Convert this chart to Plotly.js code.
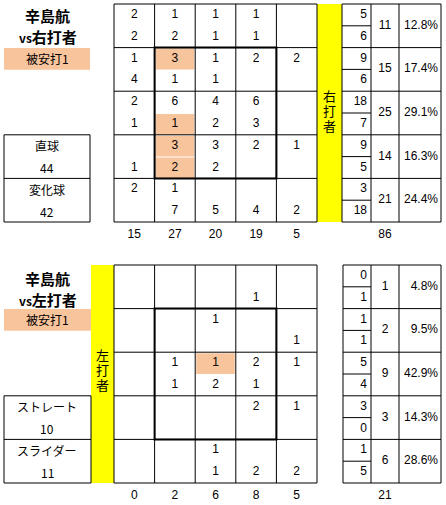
<!DOCTYPE html>
<html>
<head>
<meta charset="utf-8">
<script src="https://cdn.plot.ly/plotly-3.0.1.min.js"></script>
<style>body{margin:0;background:#fff}</style>
</head>
<body>
<div id="chart" style="width:446px;height:505px"></div>
<script>
// ---- data: 辛島航 vs 右打者 ----
const pitcher = '辛島航';
const rSide = '右打者';
const rHits = '被安打1';
const rUpperName = '直球', rUpperCount = 44;
const rLowerName = '変化球', rLowerCount = 42;
// 5x5 zone, upper number = 直球, lower number = 変化球 (null = blank)
const rUpper = [
  [2, 1, 1, 1, null],
  [1, 3, 1, 2, 2],
  [2, 6, 4, 6, null],
  [null, 3, 3, 2, 1],
  [2, 1, null, null, null]
];
const rLower = [
  [2, 2, 1, 1, null],
  [4, 1, 1, null, null],
  [1, 1, 2, 3, null],
  [1, 2, 2, null, null],
  [null, 7, 5, 4, 2]
];
// hit cells: [row, col, 0=upper / 1=lower]
const rHitCells = [[1, 1, 0], [2, 1, 1], [3, 1, 0], [3, 1, 1]];
const rRowUpper = [5, 9, 18, 9, 3];
const rRowLower = [6, 6, 7, 5, 18];
const rRowTotal = [11, 15, 25, 14, 21];
const rRowPct = ['12.8%', '17.4%', '29.1%', '16.3%', '24.4%'];
const rColTotal = [15, 27, 20, 19, 5];
const rTotal = 86;

// ---- data: 辛島航 vs 左打者 ----
const lSide = '左打者';
const lHits = '被安打1';
const lUpperName = 'ストレート', lUpperCount = 10;
const lLowerName = 'スライダー', lLowerCount = 11;
const lUpper = [
  [null, null, null, null, null],
  [null, null, 1, null, null],
  [null, 1, 1, 2, 1],
  [null, null, null, 2, 1],
  [null, null, 1, null, null]
];
const lLower = [
  [null, null, null, 1, null],
  [null, null, null, null, 1],
  [null, 1, 2, 1, null],
  [null, null, null, null, null],
  [null, null, 1, 2, 2]
];
const lHitCells = [[2, 2, 0]];
const lRowUpper = [0, 1, 5, 3, 1];
const lRowLower = [1, 1, 4, 0, 5];
const lRowTotal = [1, 2, 9, 3, 6];
const lRowPct = ['4.8%', '9.5%', '42.9%', '14.3%', '28.6%'];
const lColTotal = [0, 2, 6, 8, 5];
const lTotal = 21;

const FONT = 'Liberation Sans, Noto Sans CJK JP, sans-serif';
const JP = 'Noto Sans CJK JP, sans-serif';
const HIT = '#f8c49c';

const traces = [];
const shapes = [];
const annotations = [];

function line(x0, y0, x1, y1, w) {
  shapes.push({type: 'line', xref: 'x', yref: 'y', x0, y0, x1, y1,
    line: {color: '#000', width: w || 1}, layer: 'above'});
}
function rect(x0, y0, x1, y1, fill, layer) {
  shapes.push({type: 'rect', xref: 'x', yref: 'y', x0, y0, x1, y1,
    fillcolor: fill, line: {width: 0}, layer: layer || 'below'});
}
function text(xs, ys, ts, pos, size) {
  traces.push({type: 'scatter', mode: 'text', x: xs, y: ys, text: ts,
    textposition: pos || 'middle center', cliponaxis: false,
    marker: {size: 0}, textfont: {family: FONT, size: size || 12, color: '#000'},
    hoverinfo: 'skip', showlegend: false});
}
function note(x, y, t, size, bold) {
  annotations.push({xref: 'x', yref: 'y', x, y, text: bold ? '<b>' + t + '</b>' : t,
    showarrow: false, borderpad: 0, font: {family: JP, size: size, color: '#000'}});
}

// g: geometry of one panel
function panel(g, d) {
  const cw = g.cw, rh = g.rh;
  const colX = i => g.gx + i * cw;
  const rowY = r => g.gy + r * rh;
  const gRight = colX(5), gBottom = rowY(5);

  // hit highlights
  d.hits.forEach(([r, c, s]) => {
    rect(colX(c) + 1, rowY(r) + s * rh / 2 + 1, colX(c + 1) - 1, rowY(r) + (s + 1) * rh / 2, HIT);
  });
  // yellow side bar, vertical label one character per line
  rect(g.yx[0], g.gy, g.yx[1], gBottom, '#ffff00');
  const sideChars = d.side.split('');
  text(sideChars.map(() => (g.yx[0] + g.yx[1]) / 2),
    sideChars.map((ch, k) => rowY(2.5) + g.vy + (k - 1) * 15), sideChars, 'middle center', 13);

  // grid
  for (let i = 0; i <= 5; i++) line(colX(i), g.gy, colX(i), gBottom);
  for (let r = 0; r <= 5; r++) line(g.gx, rowY(r), gRight, rowY(r));
  // strike zone
  shapes.push({type: 'rect', xref: 'x', yref: 'y', x0: colX(1), y0: rowY(1), x1: colX(4), y1: rowY(4),
    line: {color: '#000', width: 2}, layer: 'above'});

  // cell numbers
  const xs = [], ys = [], ts = [];
  for (let r = 0; r < 5; r++) for (let c = 0; c < 5; c++) {
    const cx = colX(c + 0.5);
    if (d.upper[r][c] !== null) { xs.push(cx); ys.push(rowY(r) + rh * 0.25); ts.push(String(d.upper[r][c])); }
    if (d.lower[r][c] !== null) { xs.push(cx); ys.push(rowY(r) + rh * 0.75); ts.push(String(d.lower[r][c])); }
  }
  text(xs, ys, ts);
  // column totals
  text(d.colTotal.map((v, i) => colX(i + 0.5)), d.colTotal.map(() => gBottom + 13), d.colTotal.map(String));

  // right table
  const [t0, t1, t2, t3] = g.tx;
  line(t0, g.gy, t0, gBottom); line(t1, g.gy, t1, gBottom);
  line(t2, g.gy, t2, gBottom); line(t3, g.gy, t3, gBottom);
  for (let r = 0; r <= 5; r++) line(t0, rowY(r), t3, rowY(r));
  for (let r = 0; r < 5; r++) line(t0, rowY(r + 0.5), t1, rowY(r + 0.5));
  text(d.rowUpper.map(() => t1 - 4), d.rowUpper.map((v, r) => rowY(r) + rh * 0.25), d.rowUpper.map(String), 'middle left');
  text(d.rowLower.map(() => t1 - 4), d.rowLower.map((v, r) => rowY(r) + rh * 0.75), d.rowLower.map(String), 'middle left');
  text(d.rowTotal.map(() => (t1 + t2) / 2), d.rowTotal.map((v, r) => rowY(r + 0.5)), d.rowTotal.map(String));
  text(d.rowPct.map(() => t3 - 3), d.rowPct.map((v, r) => rowY(r + 0.5)), d.rowPct, 'middle left');
  text([(t1 + t2) / 2], [gBottom + 13], [String(d.total)]);

  // left labels
  note(47, g.ty[0], pitcher, 15, true);
  note(48, g.ty[1], '<span style="font-size:12px">vs</span>' + d.side, 15, true);
  rect(4, g.hy, g.lx, g.hy + rh / 2, HIT);
  note(47, g.hy + rh / 4, d.hitsText, 12);
  const by = rowY(3);
  line(4, by, g.lx, by); line(4, by + rh, g.lx, by + rh); line(4, by + 2 * rh, g.lx, by + 2 * rh);
  line(4, by, 4, by + 2 * rh); line(g.lx, by, g.lx, by + 2 * rh);
  note(47, by + rh * 0.25, d.upperName, 12);
  note(47, by + rh * 0.75, String(d.upperCount), 12);
  note(47, by + rh * 1.25, d.lowerName, 12);
  note(47, by + rh * 1.75, String(d.lowerCount), 12);
}

panel({gx: 114, gy: 4, cw: 40.6, rh: 43.6, yx: [317, 342], tx: [342, 371, 399, 441], ty: [15, 36], hy: 48, lx: 90, vy: 0},
  {side: rSide, hitsText: rHits, upper: rUpper, lower: rLower, hits: rHitCells,
   rowUpper: rRowUpper, rowLower: rRowLower, rowTotal: rRowTotal, rowPct: rRowPct,
   colTotal: rColTotal, total: rTotal,
   upperName: rUpperName, upperCount: rUpperCount, lowerName: rLowerName, lowerCount: rLowerCount});

panel({gx: 114, gy: 265, cw: 40.6, rh: 43.6, yx: [91, 114], tx: [343, 371, 399, 441], ty: [278, 299], hy: 309, lx: 91, vy: -2},
  {side: lSide, hitsText: lHits, upper: lUpper, lower: lLower, hits: lHitCells,
   rowUpper: lRowUpper, rowLower: lRowLower, rowTotal: lRowTotal, rowPct: lRowPct,
   colTotal: lColTotal, total: lTotal,
   upperName: lUpperName, upperCount: lUpperCount, lowerName: lLowerName, lowerCount: lLowerCount});

const layout = {
  width: 446, height: 505,
  margin: {l: 0, r: 0, t: 0, b: 0},
  paper_bgcolor: '#fff', plot_bgcolor: '#fff',
  xaxis: {range: [0, 446], visible: false, fixedrange: true},
  yaxis: {range: [505, 0], visible: false, fixedrange: true},
  shapes, annotations, showlegend: false
};

Plotly.newPlot('chart', traces, layout, {staticPlot: true});
</script>
</body>
</html>
